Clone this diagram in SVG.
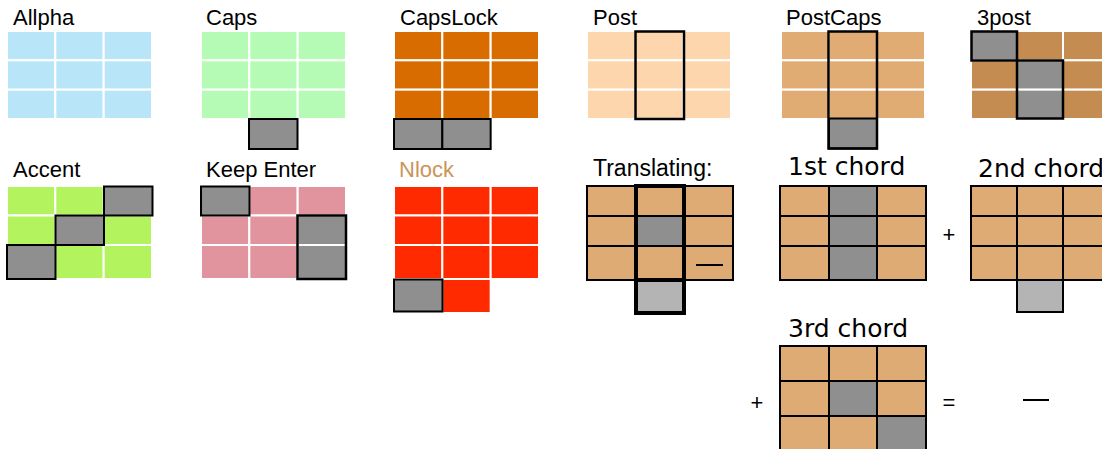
<svg xmlns="http://www.w3.org/2000/svg" width="1102" height="449" viewBox="0 0 1102 449">
<style>
.w{stroke:#fff;stroke-width:2}
.k{stroke:#000;stroke-width:2}
.o{fill:none;stroke:#000;stroke-width:2.5}
.ot{fill:none;stroke:#000;stroke-width:4}
.g{fill:#8f8f8f}
.lg{fill:#b4b4b4}
.t{font-family:"Liberation Sans",Arial,sans-serif;font-size:22px;fill:#000}
.tc{font-family:"DejaVu Sans","Liberation Sans",sans-serif;font-size:25px;fill:#000}
.op{font-family:"Liberation Sans",Arial,sans-serif;font-size:22px;fill:#000;text-anchor:middle}
.tan{fill:#dfab74}
</style>
<rect width="1102" height="449" fill="#fff"/>

<g id="allpha">
<text class="t" x="13" y="25">Allpha</text>
<g class="w" fill="#b9e5f9">
<rect x="7" y="31" width="48.33" height="29.33"/><rect x="55.33" y="31" width="48.33" height="29.33"/><rect x="103.67" y="31" width="48.33" height="29.33"/>
<rect x="7" y="60.33" width="48.33" height="29.33"/><rect x="55.33" y="60.33" width="48.33" height="29.33"/><rect x="103.67" y="60.33" width="48.33" height="29.33"/>
<rect x="7" y="89.67" width="48.33" height="29.33"/><rect x="55.33" y="89.67" width="48.33" height="29.33"/><rect x="103.67" y="89.67" width="48.33" height="29.33"/>
</g>
</g>

<g id="caps">
<text class="t" x="206" y="25">Caps</text>
<g class="w" fill="#b5fbb5">
<rect x="201" y="31" width="48.33" height="29.33"/><rect x="249.33" y="31" width="48.33" height="29.33"/><rect x="297.67" y="31" width="48.33" height="29.33"/>
<rect x="201" y="60.33" width="48.33" height="29.33"/><rect x="249.33" y="60.33" width="48.33" height="29.33"/><rect x="297.67" y="60.33" width="48.33" height="29.33"/>
<rect x="201" y="89.67" width="48.33" height="29.33"/><rect x="249.33" y="89.67" width="48.33" height="29.33"/><rect x="297.67" y="89.67" width="48.33" height="29.33"/>
</g>
<rect class="g k" x="249" y="119" width="48.5" height="30"/>
</g>

<g id="capslock">
<text class="t" x="400" y="25">CapsLock</text>
<g class="w" fill="#d86c00">
<rect x="394" y="31" width="48.33" height="29.33"/><rect x="442.33" y="31" width="48.33" height="29.33"/><rect x="490.67" y="31" width="48.33" height="29.33"/>
<rect x="394" y="60.33" width="48.33" height="29.33"/><rect x="442.33" y="60.33" width="48.33" height="29.33"/><rect x="490.67" y="60.33" width="48.33" height="29.33"/>
<rect x="394" y="89.67" width="48.33" height="29.33"/><rect x="442.33" y="89.67" width="48.33" height="29.33"/><rect x="490.67" y="89.67" width="48.33" height="29.33"/>
</g>
<rect class="g k" x="394" y="119" width="48.33" height="30"/>
<rect class="g k" x="442.33" y="119" width="48.33" height="30"/>
</g>

<g id="post">
<text class="t" x="593" y="25">Post</text>
<g class="w" fill="#fdd6ae">
<rect x="587" y="31" width="48" height="29.33"/><rect x="635" y="31" width="48" height="29.33"/><rect x="683" y="31" width="48" height="29.33"/>
<rect x="587" y="60.33" width="48" height="29.33"/><rect x="635" y="60.33" width="48" height="29.33"/><rect x="683" y="60.33" width="48" height="29.33"/>
<rect x="587" y="89.67" width="48" height="29.33"/><rect x="635" y="89.67" width="48" height="29.33"/><rect x="683" y="89.67" width="48" height="29.33"/>
</g>
<rect class="o" x="635.5" y="31.5" width="48.5" height="87.5"/>
</g>

<g id="postcaps">
<text class="t" x="786" y="25">PostCaps</text>
<g class="w" fill="#e0ac74">
<rect x="781" y="31" width="48" height="29.33"/><rect x="829" y="31" width="48" height="29.33"/><rect x="877" y="31" width="48" height="29.33"/>
<rect x="781" y="60.33" width="48" height="29.33"/><rect x="829" y="60.33" width="48" height="29.33"/><rect x="877" y="60.33" width="48" height="29.33"/>
<rect x="781" y="89.67" width="48" height="29.33"/><rect x="829" y="89.67" width="48" height="29.33"/><rect x="877" y="89.67" width="48" height="29.33"/>
</g>
<rect class="g k" x="829" y="118.5" width="48" height="30"/>
<rect class="o" x="828.5" y="31.5" width="48.5" height="117"/>
</g>

<g id="post3">
<text class="t" x="977" y="25">3post</text>
<g class="w" fill="#c48c50">
<rect x="1017" y="31" width="46" height="29.33"/><rect x="1063" y="31" width="46" height="29.33"/>
<rect x="971" y="60.33" width="46" height="29.33"/><rect x="1063" y="60.33" width="46" height="29.33"/>
<rect x="971" y="89.67" width="46" height="29.33"/><rect x="1063" y="89.67" width="46" height="29.33"/>
</g>
<g class="w g">
<rect x="971" y="31" width="46" height="29.33"/>
<rect x="1017" y="60.33" width="46" height="29.33"/>
<rect x="1017" y="89.67" width="46" height="29.33"/>
</g>
<rect class="o" x="971.5" y="31.5" width="45.5" height="29"/>
<rect class="o" x="1017" y="60.5" width="46" height="58"/>
</g>

<g id="accent">
<text class="t" x="13" y="177">Accent</text>
<g class="w" fill="#b2f35e">
<rect x="7" y="186" width="48.33" height="29.5"/><rect x="55.33" y="186" width="48.33" height="29.5"/>
<rect x="7" y="215.5" width="48.33" height="29.5"/><rect x="103.67" y="215.5" width="48.33" height="29.5"/>
<rect x="55.33" y="245" width="48.33" height="34"/><rect x="103.67" y="245" width="48.33" height="34"/>
</g>
<g class="g k">
<rect x="104" y="186.5" width="48.5" height="29"/>
<rect x="55.5" y="215.5" width="48.5" height="29.5"/>
<rect x="7" y="245" width="48.5" height="34"/>
</g>
</g>

<g id="keepenter">
<text class="t" x="206" y="177">Keep Enter</text>
<g class="w" fill="#e1949e">
<rect x="249.33" y="186" width="48.33" height="29.5"/><rect x="297.67" y="186" width="48.33" height="29.5"/>
<rect x="201" y="215.5" width="48.33" height="29.5"/><rect x="249.33" y="215.5" width="48.33" height="29.5"/>
<rect x="201" y="245" width="48.33" height="34"/><rect x="249.33" y="245" width="48.33" height="34"/>
</g>
<g class="w g">
<rect x="297.67" y="215.5" width="48.33" height="29.5"/>
<rect x="297.67" y="245" width="48.33" height="34"/>
</g>
<rect class="g k" x="201" y="186.5" width="48.5" height="29"/>
<rect class="o" x="297.5" y="215.5" width="48.5" height="63.5"/>
</g>

<g id="nlock">
<text class="t" x="399" y="177" style="fill:#c9955b">Nlock</text>
<g class="w" fill="#ff2a00">
<rect x="394" y="186" width="48.33" height="29.5"/><rect x="442.33" y="186" width="48.33" height="29.5"/><rect x="490.67" y="186" width="48.33" height="29.5"/>
<rect x="394" y="215.5" width="48.33" height="29.5"/><rect x="442.33" y="215.5" width="48.33" height="29.5"/><rect x="490.67" y="215.5" width="48.33" height="29.5"/>
<rect x="394" y="245" width="48.33" height="34"/><rect x="442.33" y="245" width="48.33" height="34"/><rect x="490.67" y="245" width="48.33" height="34"/>
<rect x="442.33" y="279" width="48.33" height="34"/>
</g>
<rect class="g k" x="394" y="279.5" width="48.5" height="32"/>
</g>

<g id="translating">
<text class="t" x="593" y="176" style="font-size:23px">Translating:</text>
<g class="k tan">
<rect x="587" y="186" width="49" height="30"/><rect x="636" y="186" width="48" height="30"/><rect x="684" y="186" width="49" height="30"/>
<rect x="587" y="216" width="49" height="30"/><rect x="684" y="216" width="49" height="30"/>
<rect x="587" y="246" width="49" height="34"/><rect x="636" y="246" width="48" height="34"/><rect x="684" y="246" width="49" height="34"/>
</g>
<rect class="k g" x="636" y="216" width="48" height="30"/>
<rect class="lg" x="636" y="280" width="48" height="33"/>
<rect class="ot" x="636" y="186" width="48" height="94"/>
<rect class="ot" x="636" y="280" width="48" height="33"/>
<line x1="696" y1="265" x2="723" y2="265" stroke="#000" stroke-width="2"/>
</g>

<g id="chord1">
<text class="tc" x="788" y="175">1st chord</text>
<g class="k tan">
<rect x="780" y="186" width="49" height="30"/><rect x="877" y="186" width="49" height="30"/>
<rect x="780" y="216" width="49" height="30"/><rect x="877" y="216" width="49" height="30"/>
<rect x="780" y="246" width="49" height="34"/><rect x="877" y="246" width="49" height="34"/>
</g>
<g class="k g">
<rect x="829" y="186" width="48" height="30"/>
<rect x="829" y="216" width="48" height="30"/>
<rect x="829" y="246" width="48" height="34"/>
</g>
</g>

<g id="chord2">
<text class="tc" x="978" y="177">2nd chord</text>
<g class="k tan">
<rect x="971" y="186" width="46" height="30"/><rect x="1017" y="186" width="46" height="30"/><rect x="1063" y="186" width="46" height="30"/>
<rect x="971" y="216" width="46" height="30"/><rect x="1017" y="216" width="46" height="30"/><rect x="1063" y="216" width="46" height="30"/>
<rect x="971" y="246" width="46" height="34"/><rect x="1017" y="246" width="46" height="34"/><rect x="1063" y="246" width="46" height="34"/>
</g>
<rect class="k lg" x="1017" y="280" width="46" height="32"/>
</g>

<g id="chord3">
<text class="tc" x="788" y="337">3rd chord</text>
<g class="k tan">
<rect x="780" y="346" width="49" height="35"/><rect x="829" y="346" width="48" height="35"/><rect x="877" y="346" width="49" height="35"/>
<rect x="780" y="381" width="49" height="35"/><rect x="877" y="381" width="49" height="35"/>
<rect x="780" y="416" width="49" height="35"/><rect x="829" y="416" width="48" height="35"/>
</g>
<g class="k g">
<rect x="829" y="381" width="48" height="35"/>
<rect x="877" y="416" width="49" height="35"/>
</g>
</g>

<g id="operators">
<text class="op" x="949" y="242">+</text>
<text class="op" x="757" y="410">+</text>
<text class="op" x="949" y="410">=</text>
<line x1="1023" y1="400" x2="1049" y2="400" stroke="#000" stroke-width="2"/>
</g>
</svg>
